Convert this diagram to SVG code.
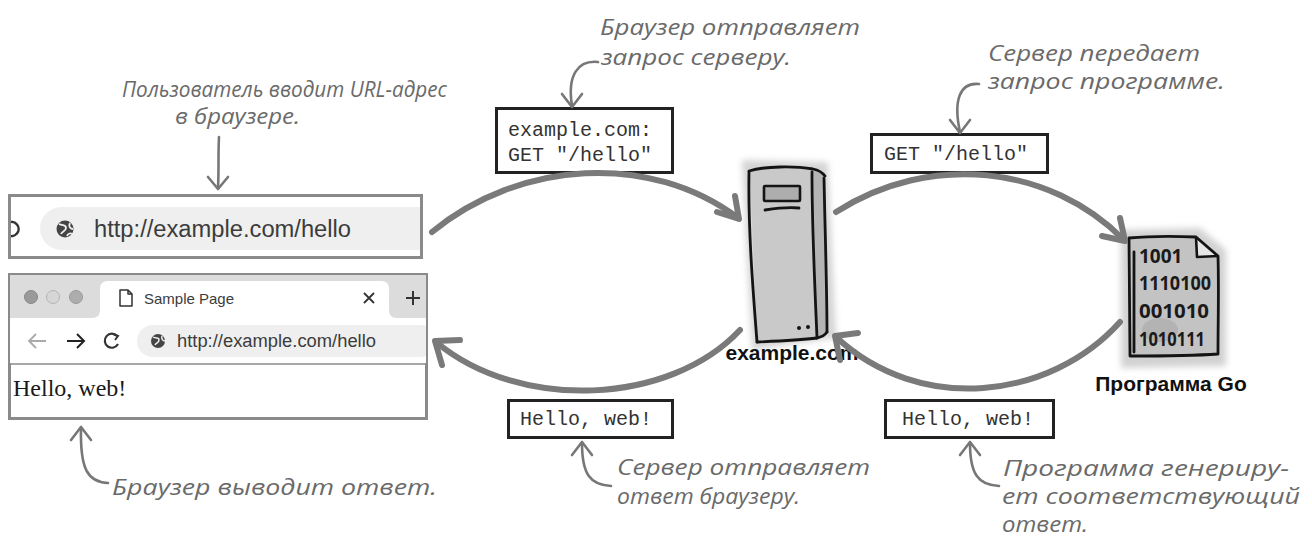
<svg xmlns="http://www.w3.org/2000/svg" width="1312" height="543" viewBox="0 0 1312 543">
  <style>
    .note { font-family: "Open Sans", "DejaVu Sans", sans-serif; font-style: italic; font-size: 22px; fill: #6a6a6a; }
    .mono { font-family: "Liberation Mono", "Courier New", monospace; font-size: 20px; fill: #333; }
    .lbl { font-family: "Liberation Sans", Arial, sans-serif; font-weight: bold; font-size: 21px; fill: #111; }
    .ui { font-family: "Liberation Sans", Arial, sans-serif; fill: #3c3c3c; }
    .frame { fill: #fff; stroke: #8a8a8a; stroke-width: 3; }
    .msg { fill: #fff; stroke: #222; stroke-width: 3; }
    .flow { fill: none; stroke: #7a7a7a; stroke-width: 6; stroke-linecap: round; stroke-linejoin: round; }
    .hint { fill: none; stroke: #777; stroke-width: 2.6; stroke-linecap: round; stroke-linejoin: round; }
    .ink { fill: none; stroke: #141414; stroke-width: 2.8; stroke-linecap: round; stroke-linejoin: round; }
  </style>
  <defs>
    <filter id="soft" x="-30%" y="-30%" width="160%" height="160%">
      <feGaussianBlur stdDeviation="3"/>
    </filter>
    <clipPath id="barClip"><rect x="11" y="197" width="409" height="59"/></clipPath>
    <clipPath id="winClip"><rect x="10" y="275" width="416" height="143"/></clipPath>
  </defs>

  <rect width="1312" height="543" fill="#fff"/>

  <!-- address bar being typed into -->
  <g id="urlbar">
    <rect class="frame" x="9.5" y="195.5" width="412" height="62"/>
    <g clip-path="url(#barClip)">
      <rect x="40" y="207" width="420" height="43" rx="21.5" fill="#efefef"/>
      <path d="M8,223 A7,7 0 1 1 8,235" fill="none" stroke="#333" stroke-width="2.5"/>
    </g>
    <circle cx="65" cy="229" r="8.5" fill="#444"/>
    <path d="M59,224 C63,226 66,224 66,228 C66,231 62,231 61,234 M70,223 C68,227 71,229 73,229 M67,236 C68,233 71,233 72,234" fill="none" stroke="#efefef" stroke-width="1.8"/>
    <text class="ui" x="94" y="237" font-size="23" textLength="257" lengthAdjust="spacingAndGlyphs">http://example.com/hello</text>
  </g>

  <!-- browser window showing the page -->
  <g id="browser">
    <rect class="frame" x="9.5" y="274.5" width="417" height="144"/>
    <g clip-path="url(#winClip)">
      <rect x="10" y="275" width="416" height="43" fill="#dcdcdc"/>
      <path d="M92,318 Q100,318 100,310 L100,289 Q100,281 108,281 L381,281 Q389,281 389,289 L389,310 Q389,318 397,318 Z" fill="#fff"/>
      <rect x="10" y="318" width="416" height="45" fill="#fff"/>
      <rect x="137" y="325" width="300" height="32" rx="16" fill="#efefef"/>
      <line x1="10" y1="364" x2="426" y2="364" stroke="#8a8a8a" stroke-width="1.5"/>
    </g>
    <circle cx="31" cy="297" r="6.5" fill="#9a9a9a" stroke="#888" stroke-width="1"/>
    <circle cx="53" cy="297" r="6.5" fill="#d6d6d6" stroke="#b5b5b5" stroke-width="1"/>
    <circle cx="76" cy="297" r="6.5" fill="#adadad" stroke="#999" stroke-width="1"/>
    <path d="M120,290 L128,290 L132,294 L132,306 L120,306 Z M128,290 L128,294 L132,294" fill="none" stroke="#333" stroke-width="1.5" stroke-linejoin="round"/>
    <text class="ui" x="144" y="304" font-size="15">Sample Page</text>
    <path d="M364,293 L374,303 M374,293 L364,303" stroke="#333" stroke-width="1.8"/>
    <path d="M413,291 L413,305 M406,298 L420,298" stroke="#333" stroke-width="2"/>
    <path d="M29,341 L46,341 M36,334 L29,341 L36,348" fill="none" stroke="#aaa" stroke-width="1.8"/>
    <path d="M67,341 L84,341 M77,334 L84,341 L77,348" fill="none" stroke="#222" stroke-width="2"/>
    <path d="M117,336 A7,7 0 1 0 118,344" fill="none" stroke="#333" stroke-width="2.2"/>
    <path d="M113,334 L118,336 L115,340" fill="none" stroke="#333" stroke-width="2"/>
    <circle cx="158" cy="341" r="7" fill="#444"/>
    <path d="M153,337 C156,339 159,337 159,340 C159,343 156,343 155,345 M162,336 C161,339 163,341 165,341" fill="none" stroke="#efefef" stroke-width="1.5"/>
    <text class="ui" x="177" y="347" font-size="18" textLength="199" lengthAdjust="spacingAndGlyphs">http://example.com/hello</text>
    <text x="13" y="396" font-family="'Liberation Serif', 'Times New Roman', serif" font-size="24" fill="#1a1a1a">Hello, web!</text>
  </g>

  <!-- web server -->
  <g id="server">
    <path d="M742,160 L828,162 L836,338 L752,350 Z" fill="#d4d4d4" filter="url(#soft)"/>
    <path d="M750,169 L813,168 L817,340 L757,343 Z" fill="#c9c9c9"/>
    <path d="M813,168 L825,174 L828,333 L817,340 Z" fill="#b4b4b4"/>
    <path class="ink" d="M749,171 C765,166 795,166 813,169 C818,170 822,172 825,176"/>
    <path class="ink" d="M749,172 C748,230 753,290 757,342"/>
    <path class="ink" d="M812,172 C812,230 815,290 817,338"/>
    <path class="ink" d="M824,178 C825,230 827,290 827,332"/>
    <path class="ink" d="M757,342 C780,341 800,340 817,338 C822,337 825,335 827,332"/>
    <rect x="764" y="186" width="36" height="15" fill="#adadad" stroke="#141414" stroke-width="2.6" rx="1"/>
    <path class="ink" d="M765,210 C778,208 790,207 799,208"/>
    <circle cx="799" cy="328" r="2" fill="#141414"/>
    <circle cx="808" cy="327" r="2" fill="#141414"/>
    <text class="lbl" x="792" y="360" text-anchor="middle">example.com</text>
  </g>

  <!-- the Go program -->
  <g id="goprog">
    <path d="M1121,230 L1200,228 L1226,250 L1226,366 L1121,368 Z" fill="#d2d2d2" filter="url(#soft)"/>
    <path d="M1129,238 L1196,237 L1218,256 L1218,354 L1130,356 Z" fill="#c3c3c3"/>
    <ellipse cx="1160" cy="330" rx="18" ry="12" fill="#b3b3b3"/>
    <path d="M1196,237 L1197,257 L1218,256" fill="#e6e6e6" stroke="#141414" stroke-width="2.6" stroke-linejoin="round"/>
    <path class="ink" d="M1129,238 C1150,236 1175,236 1196,237 L1218,256 C1219,290 1218,320 1218,354 C1190,356 1160,356 1130,356 C1130,320 1129,280 1129,238"/>
    <path class="ink" d="M1134,252 L1134,352"/>
    <g font-family="'Open Sans', 'DejaVu Sans', sans-serif" font-size="19" font-weight="bold" fill="#1a1a1a">
      <text x="1139" y="263">1001</text>
      <text x="1139" y="290" textLength="72" lengthAdjust="spacingAndGlyphs">1110100</text>
      <text x="1139" y="318" textLength="70" lengthAdjust="spacingAndGlyphs">001010</text>
      <text x="1139" y="346" textLength="66" lengthAdjust="spacingAndGlyphs">1010111</text>
    </g>
    <text class="lbl" x="1171" y="391" text-anchor="middle" font-size="22">Программа Go</text>
  </g>

  <!-- message boxes -->
  <g id="req-server">
    <rect class="msg" x="496.5" y="108.5" width="176" height="64"/>
    <text class="mono" x="508" y="136">example.com:</text>
    <text class="mono" x="508" y="161">GET "/hello"</text>
  </g>
  <g id="req-program">
    <rect class="msg" x="871.5" y="134.5" width="176" height="38"/>
    <text class="mono" x="884" y="160">GET "/hello"</text>
  </g>
  <g id="resp-browser">
    <rect class="msg" x="508.5" y="400.5" width="164" height="37"/>
    <text class="mono" x="520" y="425">Hello, web!</text>
  </g>
  <g id="resp-server">
    <rect class="msg" x="885.5" y="400.5" width="168" height="37"/>
    <text class="mono" x="902" y="425">Hello, web!</text>
  </g>

  <!-- flow arrows and pointers -->
  <g id="connectors">
    <path class="flow" d="M432,232 C520,160 650,152 738,218"/>
    <path class="flow" d="M717,212 L739,219 L735,196"/>
    <path class="flow" d="M836,212 C930,152 1050,165 1124,240"/>
    <path class="flow" d="M1102,236 L1125,241 L1120,218"/>
    <path class="flow" d="M1120,322 C1050,400 920,415 836,337"/>
    <path class="flow" d="M858,333 L835,336 L840,360"/>
    <path class="flow" d="M740,330 C670,405 520,412 436,342"/>
    <path class="flow" d="M460,340 L435,341 L442,365"/>

    <path class="hint" d="M219,137 C218,155 219,170 218,188"/>
    <path class="hint" d="M208,177 L218,189 L228,177"/>
    <path class="hint" d="M598,62 C578,60 567,75 572,106"/>
    <path class="hint" d="M562,94 L572,107 L582,94"/>
    <path class="hint" d="M979,84 C960,82 953,100 960,132"/>
    <path class="hint" d="M950,120 L960,133 L970,120"/>
    <path class="hint" d="M108,483 C88,482 80,470 81,428"/>
    <path class="hint" d="M71,440 L81,427 L91,440"/>
    <path class="hint" d="M611,486 C590,485 582,474 582,443"/>
    <path class="hint" d="M572,455 L582,442 L592,455"/>
    <path class="hint" d="M999,486 C978,485 970,474 970,443"/>
    <path class="hint" d="M960,455 L970,442 L980,455"/>
  </g>

  <!-- handwritten notes -->
  <g id="note-user">
    <text class="note" x="122" y="97" font-size="21" textLength="325" lengthAdjust="spacingAndGlyphs">Пользователь вводит URL-адрес</text>
    <text class="note" x="175" y="124" font-size="21" textLength="125" lengthAdjust="spacingAndGlyphs">в браузере.</text>
  </g>
  <g id="note-request">
    <text class="note" x="600" y="35" textLength="260" lengthAdjust="spacingAndGlyphs">Браузер отправляет</text>
    <text class="note" x="601" y="65" textLength="190" lengthAdjust="spacingAndGlyphs">запрос серверу.</text>
  </g>
  <g id="note-forward">
    <text class="note" x="988" y="61" textLength="212" lengthAdjust="spacingAndGlyphs">Сервер передает</text>
    <text class="note" x="988" y="89" textLength="237" lengthAdjust="spacingAndGlyphs">запрос программе.</text>
  </g>
  <g id="note-display">
    <text class="note" x="112" y="495" textLength="325" lengthAdjust="spacingAndGlyphs">Браузер выводит ответ.</text>
  </g>
  <g id="note-reply">
    <text class="note" x="617" y="475" textLength="253" lengthAdjust="spacingAndGlyphs">Сервер отправляет</text>
    <text class="note" x="617" y="504" textLength="183" lengthAdjust="spacingAndGlyphs">ответ браузеру.</text>
  </g>
  <g id="note-generate">
    <text class="note" x="1003" y="476" textLength="286" lengthAdjust="spacingAndGlyphs">Программа генериру-</text>
    <text class="note" x="1002" y="504" textLength="298" lengthAdjust="spacingAndGlyphs">ет соответствующий</text>
    <text class="note" x="1002" y="532" textLength="86" lengthAdjust="spacingAndGlyphs">ответ.</text>
  </g>
</svg>
